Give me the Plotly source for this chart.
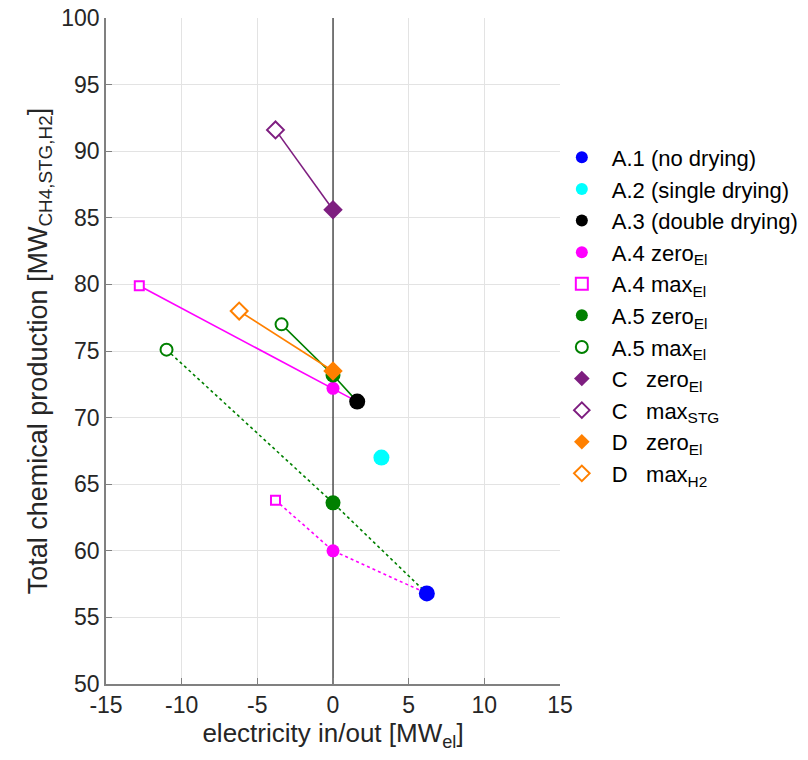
import plotly.graph_objects as go

# Operating points: electricity in/out [MW_el] vs total chemical production [MW]
a1_x, a1_y = 6.2, 56.8          # A.1 no drying
a2_x, a2_y = 3.2, 67.0          # A.2 single drying
a3_x, a3_y = 1.6, 71.2          # A.3 double drying

# A.4 / A.5: first value based on A.3 (solid), second on A.1 (dotted)
a4_zero_x = [0.0, 0.0]
a4_zero_y = [72.2, 60.0]
a4_max_x = [-12.8, -3.8]
a4_max_y = [79.9, 63.8]
a5_zero_x = [0.0, 0.0]
a5_zero_y = [73.2, 63.6]
a5_max_x = [-3.4, -11.0]
a5_max_y = [77.0, 75.1]

c_zero_x, c_zero_y = 0.0, 85.6
c_max_x, c_max_y = -3.8, 91.6
d_zero_x, d_zero_y = 0.0, 73.5
d_max_x, d_max_y = -6.2, 78.0

x_ticks = [-15, -10, -5, 0, 5, 10, 15]
y_ticks = [50, 55, 60, 65, 70, 75, 80, 85, 90, 95, 100]

BLUE = "#0000FF"
CYAN = "#00FFFF"
BLACK = "#000000"
MAGENTA = "#FF00FF"
GREEN = "#008000"
PURPLE = "#7E1E80"
ORANGE = "#FF8000"

fig = go.Figure()


def path(xs, ys, color, dash):
    fig.add_trace(go.Scatter(x=xs, y=ys, mode="lines", showlegend=False,
                             hoverinfo="skip",
                             line=dict(color=color, width=1.6, dash=dash)))


# connecting lines
path([a4_max_x[0], a4_zero_x[0], a3_x], [a4_max_y[0], a4_zero_y[0], a3_y], MAGENTA, "solid")
path([a4_max_x[1], a4_zero_x[1], a1_x], [a4_max_y[1], a4_zero_y[1], a1_y], MAGENTA, "dot")
path([a5_max_x[0], a5_zero_x[0], a3_x], [a5_max_y[0], a5_zero_y[0], a3_y], GREEN, "solid")
path([a5_max_x[1], a5_zero_x[1], a1_x], [a5_max_y[1], a5_zero_y[1], a1_y], GREEN, "dot")
path([c_max_x, c_zero_x], [c_max_y, c_zero_y], PURPLE, "solid")
path([d_max_x, d_zero_x], [d_max_y, d_zero_y], ORANGE, "solid")

# vertical line at zero electricity exchange
fig.add_trace(go.Scatter(x=[0, 0], y=[50, 100], mode="lines", showlegend=False,
                         hoverinfo="skip", line=dict(color="black", width=1)))


def pts(xs, ys, name, symbol, color, size, filled=True):
    marker = dict(symbol=symbol, size=size, color=color if filled else "white",
                  line=dict(color=color, width=0 if filled else 2))
    fig.add_trace(go.Scatter(x=xs, y=ys, mode="markers", name=name, marker=marker))


pts([a1_x], [a1_y], "A.1 (no drying)", "circle", BLUE, 16)
pts([a2_x], [a2_y], "A.2 (single drying)", "circle", CYAN, 16)
pts([a3_x], [a3_y], "A.3 (double drying)", "circle", BLACK, 16)
pts(a4_zero_x, a4_zero_y, "A.4 zero<sub>El</sub>", "circle", MAGENTA, 13)
pts(a4_max_x, a4_max_y, "A.4 max<sub>El</sub>", "square", MAGENTA, 9, False)
pts(a5_zero_x, a5_zero_y, "A.5 zero<sub>El</sub>", "circle", GREEN, 15)
pts(a5_max_x, a5_max_y, "A.5 max<sub>El</sub>", "circle", GREEN, 12, False)
pts([c_zero_x], [c_zero_y], "C   zero<sub>El</sub>", "diamond", PURPLE, 15)
pts([c_max_x], [c_max_y], "C   max<sub>STG</sub>", "diamond", PURPLE, 13, False)
pts([d_zero_x], [d_zero_y], "D   zero<sub>El</sub>", "diamond", ORANGE, 15)
pts([d_max_x], [d_max_y], "D   max<sub>H2</sub>", "diamond", ORANGE, 13, False)

axis_common = dict(
    showgrid=True, gridcolor="#e3e3e3", gridwidth=1,
    zeroline=False, showline=True, linecolor="#808080", linewidth=1.5,
    ticks="inside", ticklen=6, tickcolor="#808080",
    tickfont=dict(size=23, color="#262626"),
)

fig.update_xaxes(range=[-15, 15], tickvals=x_ticks,
                 ticktext=[str(v) for v in x_ticks],
                 title_text="electricity in/out [MW<sub>el</sub>]",
                 title_font=dict(size=26, color="#262626"),
                 title_standoff=4, **axis_common)
fig.update_yaxes(range=[50, 100], tickvals=y_ticks,
                 ticktext=[str(v) for v in y_ticks],
                 title_text="Total chemical production [MW<sub>CH4,STG,H2</sub>]",
                 title_font=dict(size=27, color="#262626"),
                 title_standoff=6, **axis_common)

fig.update_layout(
    width=808, height=760,
    margin=dict(l=106, r=248, t=18, b=76, autoexpand=False),
    plot_bgcolor="white", paper_bgcolor="white",
    font=dict(family="Arial, Liberation Sans, sans-serif", color="black"),
    legend=dict(x=0.982, y=0.822, xanchor="left", yanchor="top",
                font=dict(size=22, color="black"), itemsizing="constant",
                itemwidth=50,
                bgcolor="rgba(0,0,0,0)", tracegroupgap=0),
)

fig.write_html("out.html")
